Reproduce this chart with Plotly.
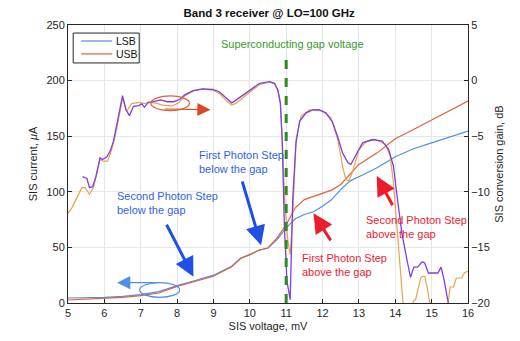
import plotly.graph_objects as go

# SIS I-V curves (left axis, uA)
iv_voltage = [5.0, 5.5, 6.0, 6.5, 7.0, 7.5, 8.0, 8.5, 9.0, 9.5, 9.75, 10.0, 10.25, 10.5, 10.75,
              11.0, 11.25, 11.5, 11.75, 12.0, 12.25, 12.5, 12.75, 13.0, 13.5, 14.0, 14.5, 15.0, 15.5, 16.0]
iv_lsb = [4.5, 4.7, 5.1, 6.0, 7.5, 10.3, 15.6, 20.2, 25.0, 33.0, 40.5, 43.5, 47.4, 49.5, 57.0,
          67.5, 75.7, 79.6, 82.0, 87.0, 93.0, 102.0, 109.6, 113.5, 121.6, 131.5, 138.7, 144.0, 149.5, 154.6]
iv_usb = [2.7, 3.3, 3.9, 5.0, 6.6, 9.0, 15.0, 19.5, 24.0, 32.5, 40.0, 43.5, 47.4, 49.5, 58.5,
          70.5, 85.6, 93.0, 96.0, 98.5, 101.5, 106.6, 115.6, 124.6, 135.0, 147.7, 156.0, 164.5, 172.7, 181.7]

# conversion gain (right axis, dB)
lsb_gain_v = [5.40, 5.52, 5.59, 5.68, 5.77, 5.88, 5.95, 6.07, 6.16, 6.25, 6.36, 6.50, 6.59, 6.69, 6.80,
              6.94, 7.03, 7.10, 7.21, 7.35, 7.55, 7.73, 7.90, 8.07, 8.20, 8.44, 8.70, 8.98, 9.16, 9.35,
              9.50, 9.60, 9.90, 10.27, 10.55, 10.68, 10.77, 10.84, 10.89, 10.95, 11.02, 11.11, 11.18,
              11.27, 11.37, 11.55, 11.73, 11.90, 12.09, 12.27, 12.41, 12.55, 12.70, 12.78, 12.90, 13.10,
              13.37, 13.64, 13.82, 13.95, 14.05, 14.18, 14.32, 14.42, 14.51, 14.61, 14.67, 14.74, 14.81,
              14.91, 15.03, 15.17, 15.26, 15.34, 15.45, 15.52]
lsb_gain_db = [-8.64, -8.8, -9.63, -9.54, -8.6, -6.94, -7.1, -6.85, -6.34, -5.45, -3.66, -1.36, -2.6, -3.15, -2.31,
               -2.25, -2.1, -2.4, -1.96, -1.9, -1.73, -1.9, -1.9, -1.7, -1.3, -0.9, -0.74, -0.8, -1.0, -1.6,
               -2.0, -1.8, -1.13, -0.24, -0.1, -0.24, -0.83, -2.0, -5.3, -13.0, -18.0, -19.7, -10.7,
               -5.6, -3.63, -2.9, -2.64, -2.62, -2.9, -3.7, -5.0, -6.5, -7.4, -7.54, -6.8, -5.6,
               -5.3, -5.44, -6.2, -7.7, -10.4, -13.7, -16.1, -17.7, -16.77, -16.77, -16.56, -16.3, -16.4,
               -17.3, -17.3, -17.3, -16.77, -17.9, -19.85, -21.0]

usb_gain_v = [5.00, 5.11, 5.25, 5.38, 5.47, 5.59, 5.70, 5.88, 5.97, 6.09, 6.20, 6.29, 6.50, 6.62, 6.75,
              6.94, 7.12, 7.21, 7.40, 7.60, 7.85, 8.05, 8.20, 8.44, 8.70, 8.98, 9.16, 9.35, 9.50, 9.62,
              9.90, 10.27, 10.55, 10.68, 10.77, 10.84, 10.89, 10.97, 11.05, 11.11, 11.18, 11.27, 11.41,
              11.64, 12.00, 12.23, 12.42, 12.55, 12.64, 12.73, 12.83, 13.00, 13.20, 13.46, 13.73, 13.86,
              13.95, 14.05, 14.14, 14.22, 14.35, 14.48, 14.51, 14.56, 14.70, 14.74, 14.81, 14.88, 14.95,
              15.05, 15.40, 15.45, 15.51, 15.60, 15.68, 15.82, 15.91, 16.00]
usb_gain_db = [-11.95, -11.42, -10.5, -9.63, -9.63, -10.22, -9.63, -7.1, -7.24, -7.24, -6.2, -5.15, -1.57, -2.76, -2.07,
               -1.96, -2.07, -1.96, -2.0, -2.2, -2.3, -2.0, -1.4, -0.95, -0.77, -0.85, -1.15, -1.8, -2.2, -2.05,
               -1.3, -0.35, -0.15, -0.3, -0.9, -2.0, -5.3, -11.5, -14.5, -15.65, -12.2, -5.3, -3.2,
               -2.64, -2.73, -3.33, -5.3, -7.7, -8.9, -9.04, -8.14, -6.2, -5.5, -5.3, -5.74, -6.8,
               -9.2, -13.7, -17.3, -20.3, -22.0, -20.3, -19.76, -19.7, -17.75, -17.6, -17.6, -18.65, -20.0,
               -22.0, -22.0, -20.0, -18.56, -18.56, -17.75, -17.75, -17.25, -17.15]

legend_names = ["LSB", "USB"]

FONT = "Liberation Sans, Arial, sans-serif"
INK = "#262626"
GRID = "#e3e8ec"
BLUE = "#4f8fe6"
RED = "#e0603c"

fig = go.Figure()

fig.add_trace(go.Scatter(x=iv_voltage, y=iv_lsb, name=legend_names[0], mode="lines",
                         line=dict(color=BLUE, width=1.2)))
fig.add_trace(go.Scatter(x=iv_voltage, y=iv_usb, name=legend_names[1], mode="lines",
                         line=dict(color=RED, width=1.2)))
fig.add_trace(go.Scatter(x=usb_gain_v, y=usb_gain_db, yaxis="y2", mode="lines",
                         line=dict(color="#eaa24a", width=1.2)))
fig.add_trace(go.Scatter(x=lsb_gain_v, y=lsb_gain_db, yaxis="y2", mode="lines",
                         line=dict(color="#7d3fe6", width=1.3)))

# gap voltage marker
fig.add_shape(type="line", x0=11, x1=11, y0=0, y1=221, xref="x", yref="y",
              line=dict(color="#2e8b1e", width=3, dash="dash"))

# ellipses around curves pointing to their axes
fig.add_shape(type="circle", x0=7.28, x1=8.34, y0=173.0, y1=186.2, xref="x", yref="y",
              line=dict(color=RED, width=1.2))
fig.add_shape(type="circle", x0=6.97, x1=8.07, y0=5.1, y1=18.3, xref="x", yref="y",
              line=dict(color=BLUE, width=1.2))

# compact MATLAB-style legend box
fig.add_shape(type="rect", xref="paper", yref="paper", x0=0.013, x1=0.178, y0=0.8635, y1=0.971,
              line=dict(color=INK, width=1), fillcolor="white", layer="above")
annotations = []
for name, col, ly in zip(legend_names, [BLUE, RED], [0.9425, 0.896]):
    fig.add_shape(type="line", xref="paper", yref="paper", x0=0.0332, x1=0.1106, y0=ly, y1=ly,
                  line=dict(color=col, width=1.2), layer="above")
    annotations.append(dict(x=0.1156, y=ly, xref="paper", yref="paper", text=name, showarrow=False,
                            xanchor="left", yanchor="middle", font=dict(size=10.5, color="#111111")))

annotations += [
    dict(x=11.17, y=233, text="Superconducting gap voltage", showarrow=False,
         font=dict(color="#3a9a2a", size=11)),
    dict(x=8.55, y=140, text="First Photon Step<br>below the gap", showarrow=False, align="left",
         xanchor="left", yanchor="top", font=dict(color="#2f62e8", size=11)),
    dict(x=6.28, y=103, text="Second Photon Step<br>below the gap", showarrow=False, align="left",
         xanchor="left", yanchor="top", font=dict(color="#2f62e8", size=11)),
    dict(x=11.38, y=48, text="First Photon Step<br>above the gap", showarrow=False, align="left",
         xanchor="left", yanchor="top", font=dict(color="#ee2233", size=11)),
    dict(x=13.15, y=82, text="Second Photon Step<br>above the gap", showarrow=False, align="left",
         xanchor="left", yanchor="top", font=dict(color="#ee2233", size=11)),
]

# thick arrows: (tip_x, tip_y, tail_x, tail_y, colour)
arrows = [
    (10.31, 52, 9.78, 110.6, "#1f4fe6"),
    (8.45, 23.6, 7.69, 71.7, "#1f4fe6"),
    (11.75, 80.6, 12.25, 55.0, "#ee1c2a"),
    (13.49, 114.2, 13.95, 86.6, "#ee1c2a"),
]
for tx, ty, sx, sy, col in arrows:
    annotations.append(dict(x=tx, y=ty, ax=sx, ay=sy, xref="x", yref="y", axref="x", ayref="y",
                            text="", showarrow=True, arrowhead=2, arrowsize=1.3, arrowwidth=3,
                            arrowcolor=col, standoff=0))

# thin arrows from the ellipses
annotations.append(dict(x=8.92, y=173.8, ax=7.62, ay=174.5, xref="x", yref="y", axref="x", ayref="y",
                        text="", showarrow=True, arrowhead=2, arrowsize=2.2, arrowwidth=1.2,
                        arrowcolor="#d9481f", standoff=0))
annotations.append(dict(x=6.35, y=18.3, ax=7.49, ay=18.3, xref="x", yref="y", axref="x", ayref="y",
                        text="", showarrow=True, arrowhead=2, arrowsize=2.2, arrowwidth=1.2,
                        arrowcolor=BLUE, standoff=0))

# the page body has an 8px margin, so the figure is sized to fit inside the window
fig.update_layout(
    width=512, height=333,
    margin=dict(l=60, r=52, t=17, b=38),
    paper_bgcolor="white", plot_bgcolor="white",
    font=dict(family=FONT, size=11, color=INK),
    title=dict(text="<b>Band 3 receiver @ LO=100 GHz</b>", x=0.51, xanchor="center",
               y=0.985, yanchor="middle", font=dict(size=11.5, color="#111111")),
    showlegend=False,
    xaxis=dict(range=[5, 16], dtick=1, tick0=5, showgrid=True, gridcolor=GRID,
               showline=True, linecolor=INK, linewidth=1, mirror=True, automargin=False,
               ticks="inside", ticklen=4, tickcolor=INK, zeroline=False,
               title=dict(text="SIS voltage, mV", standoff=4, font=dict(size=11))),
    yaxis=dict(range=[0, 250], dtick=50, showgrid=True, gridcolor=GRID,
               showline=True, linecolor=INK, linewidth=1, automargin=False,
               ticks="inside", ticklen=4, tickcolor=INK, zeroline=False,
               title=dict(text="SIS current, <i>μ</i>A", standoff=6, font=dict(size=11))),
    yaxis2=dict(range=[-20, 5], dtick=5, overlaying="y", side="right", showgrid=False,
                showline=True, linecolor=INK, linewidth=1, automargin=False,
                ticks="inside", ticklen=4, tickcolor=INK, zeroline=False,
                title=dict(text="SIS conversion gain, dB", standoff=6, font=dict(size=11))),
    annotations=annotations,
)

fig.write_html("out.html")
